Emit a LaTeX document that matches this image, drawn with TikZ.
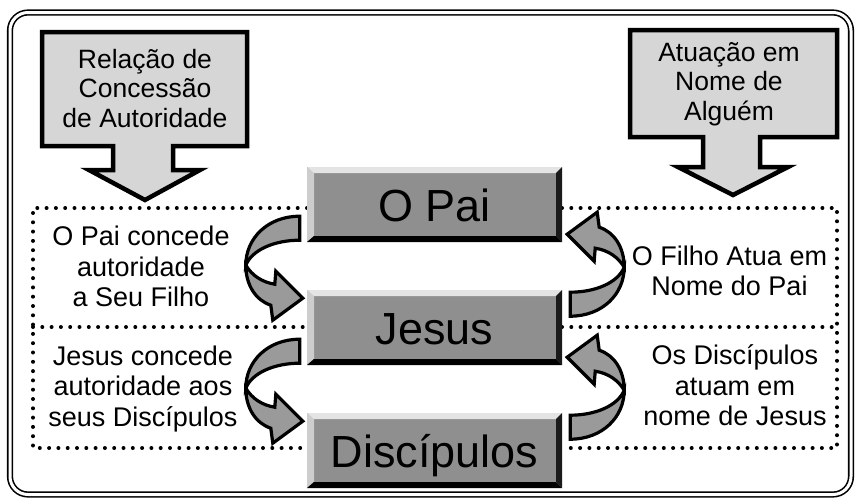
\documentclass[tikz,border=0pt]{standalone}
\usepackage{fontspec}
\setmainfont{Liberation Sans}
\usetikzlibrary{calc}
\definecolor{boxgray}{HTML}{8F8F8F}
\definecolor{arrowgray}{HTML}{D6D6D6}
\definecolor{cgray}{HTML}{9A9A9A}
\definecolor{bevtop}{HTML}{E4E4E4}
\definecolor{bevleft}{HTML}{CDCDCD}
\definecolor{bevright}{HTML}{1A1A1A}
\def\bb{path picture bounding box}
\begin{document}
\begin{tikzpicture}[x=1pt,y=-1pt,
  bigarrow/.style={fill=arrowgray, draw=black, line width=4.5pt, line join=miter},
  dotline/.style={line width=4pt, dash pattern=on 0pt off 9.3pt, line cap=round},
  lbl/.style={align=center, font=\fontsize{27}{30.5}\selectfont, inner sep=0pt},
  toplbl/.style={align=center, font=\fontsize{26.5}{29.5}\selectfont, inner sep=0pt},
  carrow/.style={fill=cgray, draw=black, line width=3.2pt, line join=miter},
  btn/.style={fill=boxgray, minimum width=255pt, minimum height=75pt, inner sep=0pt,
    text height=33pt, text depth=0pt, font=\fontsize{45}{50}\selectfont,
    path picture={
      \fill[bevtop] (\bb.north west) -- (\bb.north east) -- ([xshift=-6pt,yshift=-6pt]\bb.north east) -- ([xshift=6pt,yshift=-6pt]\bb.north west) -- cycle;
      \fill[bevleft] (\bb.north west) -- ([xshift=7pt,yshift=-6pt]\bb.north west) -- ([xshift=7pt,yshift=6pt]\bb.south west) -- (\bb.south west) -- cycle;
      \fill[black] (\bb.south west) -- ([xshift=7pt,yshift=6pt]\bb.south west) -- ([xshift=-6pt,yshift=6pt]\bb.south east) -- (\bb.south east) -- cycle;
      \fill[bevright] (\bb.south east) -- ([xshift=-6pt,yshift=6pt]\bb.south east) -- ([xshift=-6pt,yshift=-6pt]\bb.north east) -- (\bb.north east) -- cycle;
    }},
  curvarrow/.pic={
    \filldraw[carrow] (0,0) .. controls (-32,0) and (-54,22) .. (-54,49)
      .. controls (-48,34) and (-26,24) .. (0,24) -- cycle;
    \filldraw[carrow] (-54,49) .. controls (-48,59) and (-38,66) .. (-25,68)
      -- (-24,55) -- (3,82) -- (-27,104) -- (-29,89)
      .. controls (-44,84) and (-54,69) .. (-54,49) -- cycle;
  }]
\useasboundingbox (0,0) rectangle (857,498);
\fill[white] (0,0) rectangle (857,498);
% outer frame
\draw[line width=1.6pt, double=white, double distance=3pt, rounded corners=18pt]
  (10,12.5) rectangle (851,494.5);
% dotted frames
\draw[dotline] (307,208) -- (33,208) -- (33,448) -- (307,448);
\draw[dotline] (33,327) -- (307,327);
\draw[dotline] (562,208) -- (837,208) -- (837,448) -- (562,448);
\draw[dotline] (562,327) -- (837,327);
% big arrows
\filldraw[bigarrow] (42,32) -- (247,32) -- (247,146) -- (173,146) -- (173,170) -- (200,170)
  -- (145,200) -- (89,170) -- (113,170) -- (113,146) -- (42,146) -- cycle;
\node[toplbl] (rel) at (145,88.5) {Relação de\\Concessão\\de Autoridade};
\filldraw[bigarrow] (630,30) -- (837,30) -- (837,137) -- (760,137) -- (760,167) -- (788,167)
  -- (733,195) -- (678,167) -- (703,167) -- (703,137) -- (630,137) -- cycle;
\node[toplbl] (atu) at (729,84) {Atuação em\\Nome de\\Alguém};
% boxes
\node[btn] (pai) at (434.5,204.5) {O Pai};
\node[btn] (jesus) at (434.5,327.5) {Jesus};
\node[btn] (disc) at (434.5,450.5) {Discípulos};
% curved arrows
\pic at ($(pai.south west)+(-7,-26)$) {curvarrow};
\pic at ($(jesus.south west)+(-7,-26)$) {curvarrow};
\pic[rotate=180] at ($(jesus.south east)+(8,-49)$) {curvarrow};
\pic[rotate=180] at ($(disc.south east)+(8,-49)$) {curvarrow};
% labels
\node[lbl] (l1) at (141,266.5) {O Pai concede\\autoridade\\a Seu Filho};
\node[lbl] (l2) at (143,389) {Jesus concede\\autoridade aos\\seus Discípulos};
\node[lbl] (r1) at (729.5,271) {O Filho Atua em\\Nome do Pai};
\node[lbl] (r2) at (735,385.5) {Os Discípulos\\atuam em\\nome de Jesus};
\end{tikzpicture}
\end{document}
